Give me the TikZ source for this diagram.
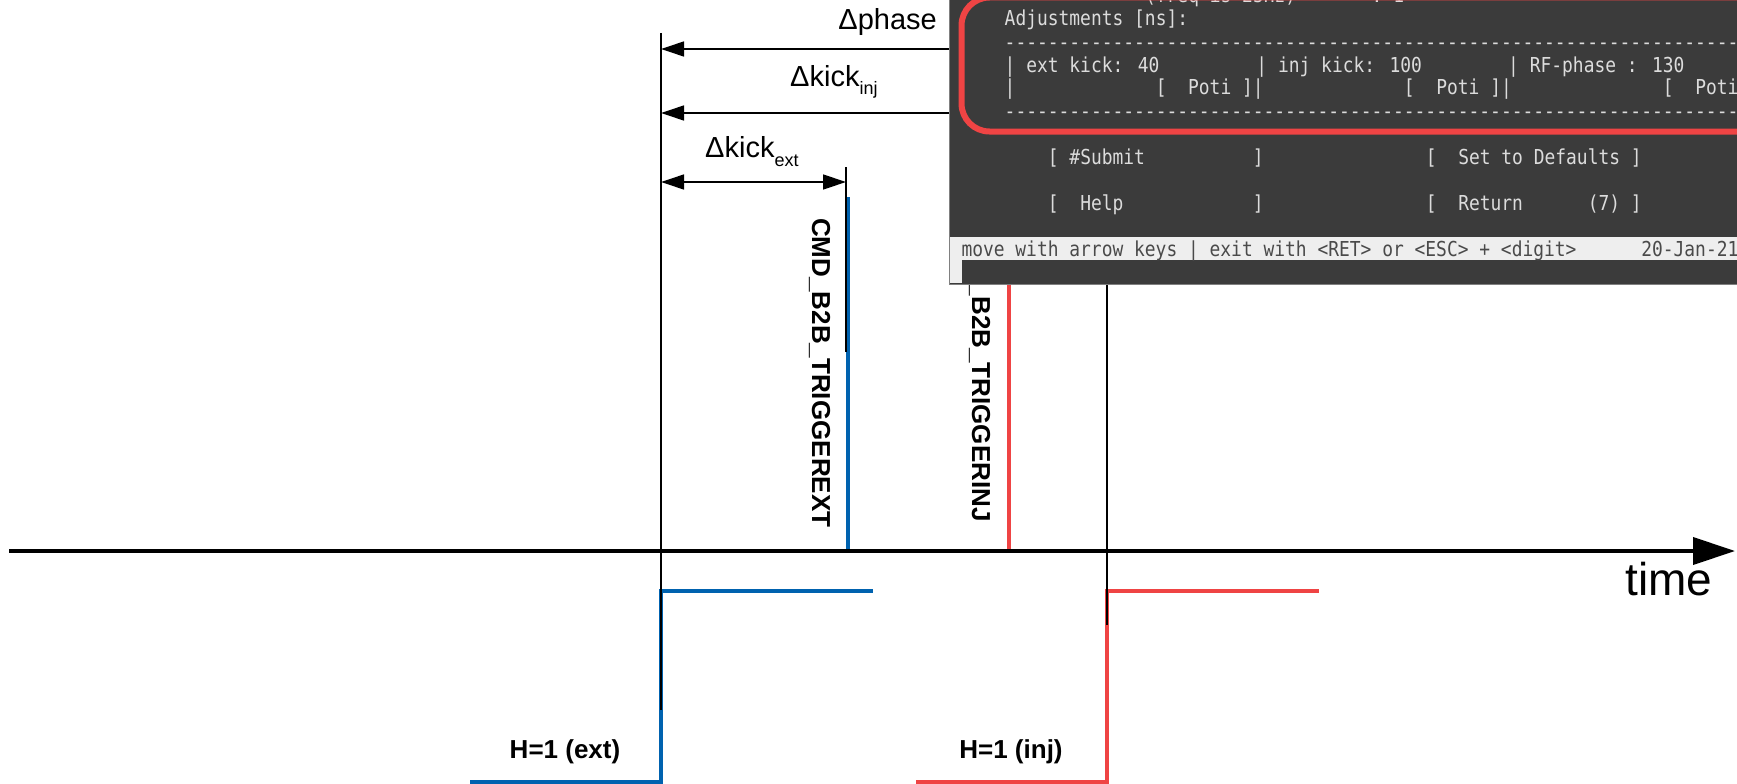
\documentclass[tikz,border=0pt]{standalone}
\usepackage{fontspec}
\setmainfont{Liberation Sans}
\newfontfamily\termfont[FakeStretch=0.87,Ligatures=TeXOff]{DejaVu Sans Mono}
\usetikzlibrary{arrows.meta}
\definecolor{extBlue}{HTML}{0062AF}
\definecolor{injRed}{HTML}{EF4444}
\definecolor{termBg}{HTML}{3B3B3B}
\definecolor{termText}{HTML}{DCDCDC}
\definecolor{termBar}{HTML}{EEEEEE}
\definecolor{termBarText}{HTML}{4A4A4A}
\tikzset{
  timeaxis/.style={-{Triangle[length=42pt,width=27pt]}, line width=4pt},
  guide/.style={line width=1.3pt},
  dimarr/.style={-{Triangle[length=23pt,width=15pt]}, line width=1.3pt},
  dimboth/.style={{Triangle[length=23pt,width=15pt]}-{Triangle[length=23pt,width=15pt]}, line width=1.3pt},
  trig/.style={line width=3.5pt},
  pulse/.style={line width=4.5pt},
  lbl/.style={font=\fontsize{29}{34}\selectfont, inner sep=0pt},
  sig/.style={font=\bfseries\fontsize{26}{30}\selectfont, inner sep=0pt},
  term/.style={font=\termfont\fontsize{20.6}{23}\selectfont, text=termText, anchor=base west, inner sep=0pt},
}
\newcommand{\subtxt}[1]{\raisebox{-9pt}{\fontsize{18}{20}\selectfont #1}}
\newcommand{\dashrow}{----------------------------------------------------------------------}
\newcommand{\termline}[5][]{%
  \node[term,#1] (#2) at ({1004.5+10.8*(#3)},#4) {#5};}

\begin{document}
\begin{tikzpicture}[x=1pt,y=-1pt]
  \useasboundingbox (0,0) rectangle (1737,784);
  \clip (0,0) rectangle (1737,784);
  \fill[white] (0,0) rectangle (1737,784);
  \coordinate (ext) at (661,551);
  \coordinate (inj) at (1107,551);
  \coordinate (trgext) at (848,551);
  \coordinate (trginj) at (1009,551);
  \coordinate (tickext) at (846,167);
  \coordinate (rphase) at (0,49);
  \coordinate (rkinj) at (0,113);
  \coordinate (rkext) at (0,182);
  % pulses
  \draw[pulse, extBlue] (470,782) -- (661,782) -- (661,591) -- (873,591);
  \draw[pulse, injRed] (916,782) -- (1107,782) -- (1107,591) -- (1319,591);
  % triggers
  \draw[trig, extBlue] (848,197) -- (trgext);
  \draw[trig, injRed] (1009,240) -- (trginj);
  \draw[guide] (ext |- 0,33) -- (661,710);
  \draw[guide] (inj |- 0,33) -- (1107,625);
  \draw[guide] (tickext) -- (846,352);
  \draw[timeaxis] (9,551) -- (1735,551);
  \node[anchor=base west, font=\fontsize{46}{50}\selectfont, inner sep=0pt] (ltime) at (1625,595) {time};
  \node[sig, rotate=-90, anchor=base west] (lext) at (812,218) {CMD\_B2B\_TRIGGEREXT};
  \node[sig, rotate=-90, anchor=base east] (linj) at (972,522) {\_B2B\_TRIGGERINJ};
  \node[sig, anchor=base] (hext) at (565,758) {H=1 (ext)};
  \node[sig, anchor=base] (hinj) at (1011,758) {H=1 (inj)};
  % deltas
  \draw[dimarr] (inj |- rphase) -- (ext |- rphase);
  \draw[dimarr] (trginj |- rkinj) -- (ext |- rkinj);
  \draw[dimboth] (ext |- rkext) -- (tickext |- rkext);
  \node[lbl, anchor=base east] (lphase) at (937,30) {Δphase};
  \node[lbl, anchor=base west] (lkinj) at (790,86) {Δkick\subtxt{inj}};
  \node[lbl, anchor=base west] (lkext) at (705,157) {Δkick\subtxt{ext}};
  % terminal screenshot
  \fill[termBg] (949,-5) rectangle (1745,284);
  \fill[termBar] (950,237) rectangle (1745,260);
  \fill[termBar] (950,237) rectangle (962,283);
  \draw[gray, line width=1pt] (949,-5) -- (949,284) -- (1745,284);
  \termline{tfreq}{13}{3}{(freq is 25Hz)~~~~~~~:~1}
  \draw[injRed, line width=6pt, rounded corners=28pt] (961.5,-2.5) rectangle (1800,131.5);
  \termline{tadj}{0}{26}{Adjustments [ns]:}
  \termline{tdasha}{0}{49}{\dashrow}
  \termline{tkick}{0}{72}{|~ext kick: 40~~~~~~~~~|~inj kick: 100~~~~~~~~|~RF-phase : 130}
  \termline{tpoti}{0}{95}{|~~~~~~~~~~~~~[~~Poti~]|~~~~~~~~~~~~~[~~Poti~]|~~~~~~~~~~~~~~[~~Poti~]|}
  \termline{tdashb}{0}{118}{\dashrow}
  \termline{tsubmit}{4}{164}{[~\#Submit~~~~~~~~~~]}
  \termline{tdefault}{39}{164}{[~~Set to Defaults~]}
  \termline{thelp}{4}{210}{[~~Help~~~~~~~~~~~~]}
  \termline{treturn}{39}{210}{[~~Return~~~~~~(7)~]}
  \termline[text=termBarText]{tstatus}{-4}{256}{move with arrow keys | exit with <RET> or <ESC> + <digit>~~~~~~20-Jan-21}
\end{tikzpicture}
\end{document}
